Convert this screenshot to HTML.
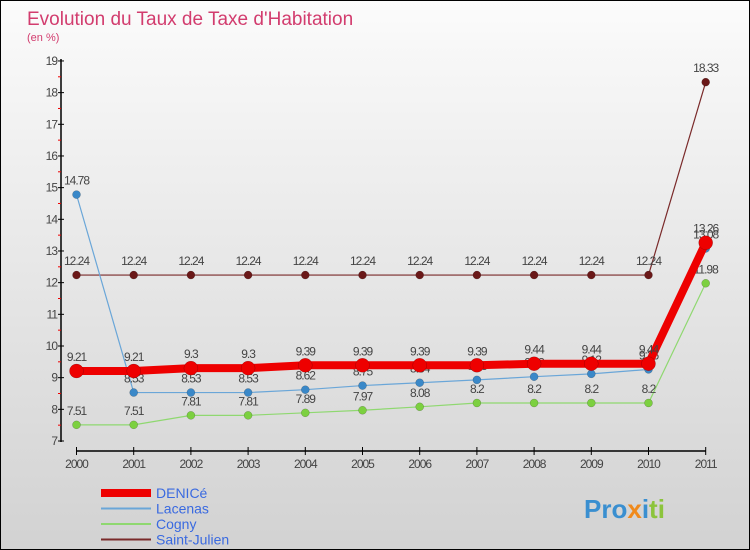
<!DOCTYPE html>
<html><head><meta charset="utf-8"><style>
body{margin:0}
#c{width:750px;height:550px;position:relative;font-family:"Liberation Sans",sans-serif;background:linear-gradient(#fbfbfb,#d2d2d2);box-sizing:border-box;border:1px solid #000;overflow:hidden}
</style></head><body>
<div id="c">
<svg width="750" height="550" style="position:absolute;left:0;top:0" id="s">
<text x="26" y="24" font-size="19" fill="#d23c6e">Evolution du Taux de Taxe d'Habitation</text>
<text x="26" y="40" font-size="11" fill="#d23c6e">(en %)</text>
<g id="axes"></g><g id="series"></g><g id="legend"></g>
<text x="583" y="517" font-size="26" font-weight="bold" fill="#3a8fd0">Pro<tspan fill="#f08a1c">x</tspan><tspan fill="#3a8fd0">i</tspan><tspan fill="#8cc43c">ti</tspan></text>
</svg></div>
<script>
const years=[2000,2001,2002,2003,2004,2005,2006,2007,2008,2009,2010,2011];
const yTicks=[7,8,9,10,11,12,13,14,15,16,17,18,19];
const denice=[9.21,9.21,9.3,9.3,9.39,9.39,9.39,9.39,9.44,9.44,9.44,13.26];
const lacenas=[14.78,8.53,8.53,8.53,8.62,8.75,8.84,8.93,9.03,9.12,9.26,13.08];
const cogny=[7.51,7.51,7.81,7.81,7.89,7.97,8.08,8.2,8.2,8.2,8.2,11.98];
const stjulien=[12.24,12.24,12.24,12.24,12.24,12.24,12.24,12.24,12.24,12.24,12.24,18.33];
const NS="http://www.w3.org/2000/svg";
const X=i=>75.5+i*57.2, Y=v=>440-(v-7)*31.67;
function mk(p,t,a){const e=document.createElementNS(NS,t);for(const k in a)e.setAttribute(k,a[k]);p.appendChild(e);return e;}
const ax=document.getElementById('axes');
const yl=mk(ax,'line',{x1:60,y1:58,x2:60,y2:441,stroke:'#000','stroke-width':1.5});


yTicks.forEach(v=>{
  mk(ax,'line',{x1:57,x2:63,y1:Y(v),y2:Y(v),stroke:'#000'});
  if(v<19)mk(ax,'line',{x1:57,x2:60,y1:Y(v+0.5),y2:Y(v+0.5),stroke:'#e00'});
  const t=mk(ax,'text',{x:56,y:Y(v)+4,'text-anchor':'end','font-size':12,fill:'#444','letter-spacing':'-1'});
  t.textContent=v;
  
  
});
const xl=mk(ax,'line',{x1:X(0),y1:450,x2:X(11),y2:450,stroke:'#000','stroke-width':1.5});


years.forEach((y,i)=>{
  mk(ax,'line',{x1:X(i),x2:X(i),y1:446,y2:454,stroke:'#000'});
  const t=mk(ax,'text',{x:X(i),y:467,'text-anchor':'middle','font-size':12,fill:'#444','letter-spacing':'-1'});
  t.textContent=y;
  
  
});
const sg=document.getElementById('series');
function draw(name,vals,color,w,r,dot){
  const g=mk(sg,'g',{});
  
  
  mk(g,'polyline',{points:vals.map((v,i)=>X(i)+','+Y(v)).join(' '),fill:'none',stroke:color,'stroke-width':w});
  vals.forEach((v,i)=>{
    const c=mk(g,'circle',{cx:X(i),cy:Y(v),r:r,fill:dot,stroke:'rgba(0,0,0,0.3)','stroke-width':0.5});
    
    
    const t=mk(g,'text',{x:X(i),y:Y(v)-10,'text-anchor':'middle','font-size':12,fill:'#444','letter-spacing':'-1'});
    t.textContent=v;
    
    
  });
}
draw('saint-julien',stjulien,'#7a2a2a',1.2,4,'#6a1818');
draw('cogny',cogny,'#8fd870',1.2,4,'#7cd040');
draw('lacenas',lacenas,'#6aa6d8',1.2,4,'#3a88c8');
draw('denice',denice,'#ee0000',8,7,'#ee0000');
const lg=document.getElementById('legend');
[['DENICé','#ee0000',8],['Lacenas','#6aa6d8',2],['Cogny','#8fd870',2],['Saint-Julien','#7a2a2a',2]].forEach((d,i)=>{
  const y=492+i*15.5;
  const g=mk(lg,'g',{});
  
  
  mk(g,'line',{x1:100,x2:150,y1:y,y2:y,stroke:d[1],'stroke-width':d[2]});
  const t=mk(g,'text',{x:155,y:y+5,'font-size':14,fill:'#3a6ae0'});
  t.textContent=d[0];
});
</script>
</body></html>
